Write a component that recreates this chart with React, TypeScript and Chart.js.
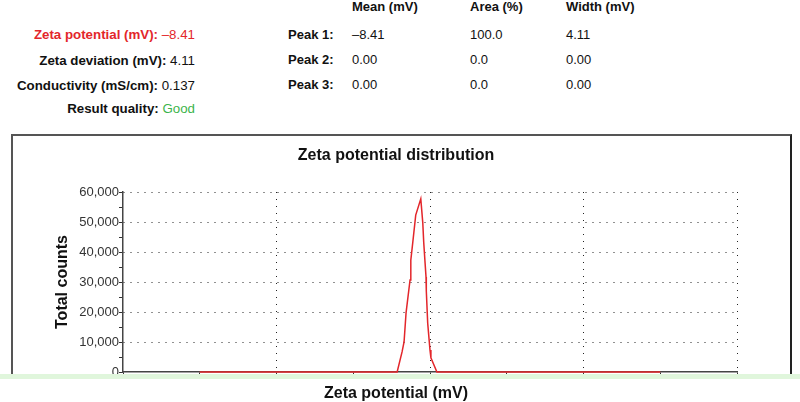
import React, { useEffect, useRef } from "react";
import { Chart, registerables } from "chart.js";

Chart.register(...registerables);

// ---- data ----
const potentials = [-150, -21.4, -18.2, -16.9, -15.6, -13.0, -12.5, -11.2, -9.3, -6.0, -4.7, -4.1, -3.2, -2.6, -2.4, -1.5, 0.0, 0.6, 4.5, 150];
const counts = [0, 0, 6700, 10000, 19700, 30700, 37300, 43300, 52300, 57700, 49700, 43300, 36300, 31700, 27000, 16300, 7300, 4700, 0, 0];

const xMin = -200;
const xMax = 200;
const xTickStep = 50;
const xGridValues = [-100, 0, 100, 200];
const yMin = 0;
const yMax = 60000;
const yTickStep = 5000;
const yLabelStep = 10000;

const summaryLabels = ["Zeta potential (mV):", "Zeta deviation (mV):", "Conductivity (mS/cm):", "Result quality:"];
const summaryValues = ["\u20138.41", "4.11", "0.137", "Good"];

const tableHeaders = ["Mean (mV)", "Area (%)", "Width (mV)"];
const peakNames = ["Peak 1:", "Peak 2:", "Peak 3:"];
const peakMeans = ["\u20138.41", "0.00", "0.00"];
const peakAreas = ["100.0", "0.0", "0.0"];
const peakWidths = ["4.11", "0.00", "0.00"];

const chartTitle = "Zeta potential distribution";
const xTitle = "Zeta potential (mV)";
const yTitle = "Total counts";

// ---- styles ----
const RED = "#e3262b";
const GREEN = "#3cb44b";
const FONT = "Arial, 'Liberation Sans', Helvetica, sans-serif";

const summaryRowY = [35, 60.5, 85.5, 109];
const peakRowY = [35, 60, 85];
const headerY = 7;
const colX = [352, 470, 566];

function SummaryRow({ i }: { i: number }) {
  const isFirst = i === 0;
  const isLast = i === summaryLabels.length - 1;
  const labelColor = isFirst ? RED : "#111";
  const valueColor = isFirst ? RED : isLast ? GREEN : "#111";
  return (
    <div
      style={{
        position: "absolute",
        left: 0,
        width: 195,
        top: summaryRowY[i] - 8,
        height: 16,
        lineHeight: "16px",
        textAlign: "right",
        fontSize: 13.3,
        whiteSpace: "nowrap",
      }}
    >
      <span style={{ fontWeight: "bold", color: labelColor }}>{summaryLabels[i]}</span>
      <span style={{ color: valueColor }}> {summaryValues[i]}</span>
    </div>
  );
}

function Cell({ x, y, text, bold }: { x: number; y: number; text: string; bold?: boolean }) {
  return (
    <div
      style={{
        position: "absolute",
        left: x,
        top: y - 8,
        height: 16,
        lineHeight: "16px",
        fontSize: 13,
        fontWeight: bold ? "bold" : "normal",
        color: "#111",
        whiteSpace: "nowrap",
      }}
    >
      {text}
    </div>
  );
}

export default function App() {
  const canvasRef = useRef<HTMLCanvasElement | null>(null);

  useEffect(() => {
    const canvas = canvasRef.current;
    if (!canvas) return;
    Chart.defaults.font.family = FONT;

    const gridDash = [1, 6];

    const chart = new Chart(canvas, {
      type: "line",
      data: {
        datasets: [
          {
            data: potentials.map((x, i) => ({ x, y: counts[i] })),
            borderColor: RED,
            backgroundColor: RED,
            borderWidth: 1.5,
            pointRadius: 0,
            tension: 0,
            fill: false,
            clip: false as any,
            xAxisID: "x",
            yAxisID: "y",
          },
        ],
      },
      options: {
        animation: false,
        responsive: true,
        maintainAspectRatio: false,
        layout: { padding: 0 },
        plugins: {
          legend: { display: false },
          tooltip: { enabled: false },
          title: {
            display: true,
            text: chartTitle,
            color: "#111",
            font: { size: 16, weight: "bold" },
            padding: { top: 11.4, bottom: 26.4 },
          },
          subtitle: {
            display: true,
            position: "bottom",
            text: xTitle,
            color: "#111",
            font: { size: 16, weight: "bold" },
            padding: { top: 0, bottom: 4.4 },
          },
        },
        scales: {
          x: {
            type: "linear",
            min: xMin,
            max: xMax,
            afterFit: (s: any) => {
              s.height = 12.4;
            },
            ticks: { stepSize: xTickStep, display: false, autoSkip: false },
            grid: {
              color: (ctx: any) => (ctx.tick && xGridValues.includes(ctx.tick.value) ? "#222" : "transparent"),
              lineWidth: 1,
              tickColor: "#333",
              tickLength: 3,
              tickWidth: 1,
            },
            border: { display: true, color: "#444", width: 1.5, dash: gridDash },
          },
          y: {
            type: "linear",
            position: "left",
            min: yMin,
            max: yMax,
            afterFit: (s: any) => {
              s.width = 123;
            },
            ticks: {
              stepSize: yTickStep,
              autoSkip: false,
              padding: 0,
              color: "#333",
              font: { size: 13 },
              callback: (v: any) => (Number(v) % yLabelStep === 0 ? Number(v).toLocaleString("en-US") : ""),
            },
            grid: {
              color: (ctx: any) =>
                ctx.tick && ctx.tick.value % yLabelStep === 0 && ctx.tick.value !== 0 ? "#222" : "transparent",
              lineWidth: 1,
              tickColor: "#333",
              tickLength: 4,
              tickWidth: 1,
            },
            border: { display: true, color: "#444", width: 1.5, dash: gridDash },
            title: {
              display: true,
              text: yTitle,
              color: "#111",
              font: { size: 16, weight: "bold" },
              padding: { top: 53, bottom: 0 },
            },
          },
          yRight: {
            type: "linear",
            axis: "y",
            position: "right",
            min: yMin,
            max: yMax,
            afterFit: (s: any) => {
              s.width = 55;
            },
            ticks: { display: false },
            grid: { display: false, drawOnChartArea: false },
            border: { display: false },
          },
        },
      } as any,
    });

    return () => {
      chart.destroy();
    };
  }, []);

  return (
    <div
      style={{
        position: "absolute",
        left: 0,
        top: 0,
        width: 800,
        height: 402,
        overflow: "hidden",
        background: "#fff",
        fontFamily: FONT,
      }}
    >
      {summaryLabels.map((_, i) => (
        <SummaryRow key={i} i={i} />
      ))}
      {tableHeaders.map((h, j) => (
        <Cell key={"h" + j} x={colX[j]} y={headerY} text={h} bold />
      ))}
      {peakNames.map((p, i) => (
        <React.Fragment key={"p" + i}>
          <Cell x={288} y={peakRowY[i]} text={p} bold />
          <Cell x={colX[0]} y={peakRowY[i]} text={peakMeans[i]} />
          <Cell x={colX[1]} y={peakRowY[i]} text={peakAreas[i]} />
          <Cell x={colX[2]} y={peakRowY[i]} text={peakWidths[i]} />
        </React.Fragment>
      ))}
      <div
        style={{
          position: "absolute",
          left: 11,
          top: 134,
          width: 781,
          height: 245,
          boxSizing: "border-box",
          borderTop: "2px solid #555",
          borderLeft: "2px solid #555",
          borderRight: "2px solid #222",
        }}
      />
      <div style={{ position: "absolute", left: 0, top: 135, width: 792, height: 273 }}>
        <canvas ref={canvasRef} />
      </div>
      <div
        style={{
          position: "absolute",
          left: 0,
          top: 374,
          width: 800,
          height: 5,
          background: "#e0f6dc",
        }}
      />
    </div>
  );
}
